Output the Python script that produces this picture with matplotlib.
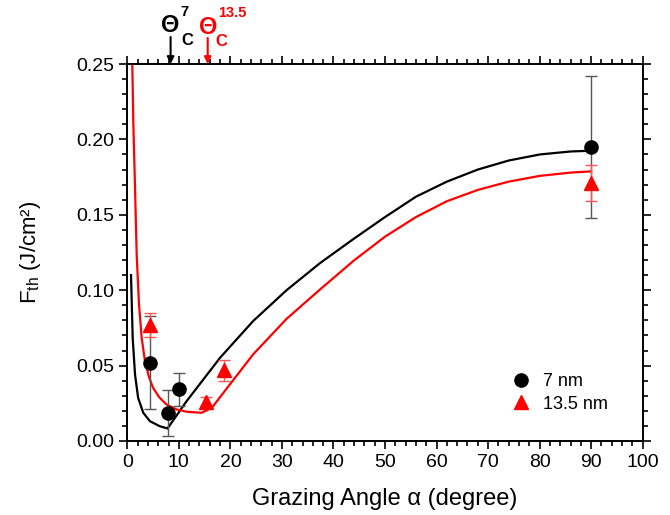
import matplotlib
matplotlib.use('Agg')
import matplotlib.pyplot as plt
from matplotlib.ticker import MultipleLocator

plt.rcParams['font.family'] = ['Liberation Sans', 'DejaVu Sans']

# measured thresholds, 7 nm
ang_7 = [4.4, 7.8, 10.0, 90.0]
fth_7 = [0.052, 0.0185, 0.0344, 0.195]
err_7 = [0.031, 0.015, 0.011, 0.047]

# measured thresholds, 13.5 nm
ang_135 = [4.4, 15.3, 18.8, 90.0]
fth_135 = [0.077, 0.026, 0.047, 0.171]
err_135 = [0.008, 0.003, 0.007, 0.012]

# model curves
model_ang_7 = [0.72, 1.05, 1.5, 2.1, 3.1, 4.4, 6.3, 7.8, 11.5, 18.0, 24.4, 30.9,
               37.4, 43.9, 50.0, 56.0, 62.0, 68.0, 74.0, 80.0, 86.0, 90.0]
model_fth_7 = [0.110, 0.068, 0.044, 0.0286, 0.0187, 0.0131, 0.0098, 0.0083, 0.0264,
               0.0552, 0.0795, 0.1000, 0.1180, 0.1340, 0.1485, 0.1620, 0.1720,
               0.1800, 0.1860, 0.1900, 0.1920, 0.1925]

model_ang_135 = [0.97, 1.16, 1.5, 1.82, 2.27, 2.8, 3.43, 4.2, 5.0, 6.2, 7.6, 9.5,
                 11.5, 14.4, 16.4, 19.9, 24.4, 30.9, 37.4, 43.9, 50.0, 56.0, 62.0,
                 68.0, 74.0, 80.0, 86.0, 90.0]
model_fth_135 = [0.25, 0.212, 0.168, 0.1235, 0.0905, 0.068, 0.053, 0.0425, 0.0353,
                 0.029, 0.0242, 0.021, 0.0194, 0.0187, 0.022, 0.0375, 0.0574, 0.0810,
                 0.1005, 0.1195, 0.1355, 0.1485, 0.1590, 0.1665, 0.1720, 0.1758,
                 0.1780, 0.1788]

# critical angles
theta_c7 = 8.4
theta_c135 = 15.6

fig = plt.figure(figsize=(6.7, 5.15), dpi=100)
ax = fig.add_axes([0.19, 0.1437, 0.7693, 0.732])

ax.plot(model_ang_7, model_fth_7, '-', color='black', lw=1.6, zorder=2)
ax.plot(model_ang_135, model_fth_135, '-', color='red', lw=1.6, zorder=2)

ax.errorbar(ang_7, fth_7, yerr=err_7, fmt='none', ecolor='#555555',
            elinewidth=1.0, capsize=4, capthick=1.0, zorder=3)
ax.errorbar(ang_135, fth_135, yerr=err_135, fmt='none', ecolor='#ff5555',
            elinewidth=1.0, capsize=4, capthick=1.0, zorder=3)
ax.plot(ang_7, fth_7, 'o', color='black', ms=9.5, label='7 nm', zorder=4)
ax.plot(ang_135, fth_135, '^', color='red', ms=9.5, label='13.5 nm', zorder=4)

ax.set_xlim(0, 100)
ax.set_ylim(0, 0.25)
ax.xaxis.set_major_locator(MultipleLocator(10))
ax.xaxis.set_minor_locator(MultipleLocator(2))
ax.yaxis.set_major_locator(MultipleLocator(0.05))
ax.yaxis.set_minor_locator(MultipleLocator(0.01))
ax.yaxis.set_major_formatter(plt.FuncFormatter(lambda v, p: f'{v:.2f}'))
ax.tick_params(which='both', direction='out', top=True, right=True,
               labelsize=14, width=1.2)
ax.tick_params(which='major', length=6)
ax.tick_params(which='minor', length=3.5)
for s in ax.spines.values():
    s.set_linewidth(1.4)

ax.set_xlabel('Grazing Angle \u03b1 (degree)', fontsize=17, labelpad=12)
ax.set_ylabel('F$_{\\mathregular{th}}$ (J/cm\u00b2)', fontsize=16, labelpad=24)

leg = ax.legend(loc='upper left', bbox_to_anchor=(0.711, 0.223), frameon=False,
                fontsize=13, handletextpad=0.6, labelspacing=0.3,
                handlelength=1.2)

# critical angle markers above the frame
marks = [
    (theta_c7, 'black', '7', 27, 39, (13.5, 52), (16.5, 24)),
    (theta_c135, 'red', '13.5', 26, 37, (25, 51), (14, 23)),
]
for ang, col, sup, tail, th_y, sup_off, c_off in marks:
    ax.annotate('', xy=(ang, 1), xycoords=('data', 'axes fraction'),
                xytext=(0, tail), textcoords='offset pixels',
                arrowprops=dict(arrowstyle='-|>', color=col, lw=1.5,
                                mutation_scale=10, shrinkA=0, shrinkB=0),
                annotation_clip=False)
    ax.annotate('\u0398', xy=(ang, 1), xycoords=('data', 'axes fraction'),
                xytext=(0, th_y), textcoords='offset pixels', color=col,
                fontsize=17, fontweight='bold', ha='center', va='center',
                annotation_clip=False)
    ax.annotate(sup, xy=(ang, 1), xycoords=('data', 'axes fraction'),
                xytext=sup_off, textcoords='offset pixels', color=col,
                fontsize=10.5, fontweight='bold', ha='center', va='center',
                annotation_clip=False)
    ax.annotate('C', xy=(ang, 1), xycoords=('data', 'axes fraction'),
                xytext=c_off, textcoords='offset pixels', color=col,
                fontsize=12, fontweight='bold', ha='center', va='center',
                annotation_clip=False)

fig.savefig('out.png', dpi=100)
